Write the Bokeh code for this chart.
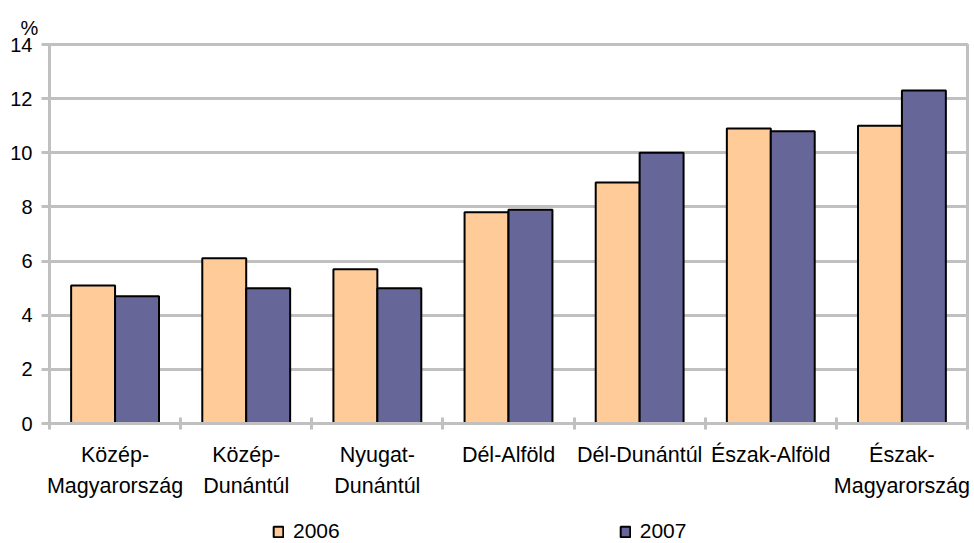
import numpy as np
from bokeh.plotting import figure
from bokeh.layouts import column
from bokeh.models import (ColumnDataSource, FixedTicker, Legend, LegendItem,
                          Range1d, Title)
from bokeh.transform import dodge
from bokeh.embed import file_html
from bokeh.resources import INLINE

# ---- data ----
categories = ["Közép-\nMagyarország", "Közép-\nDunántúl", "Nyugat-\nDunántúl",
              "Dél-Alföld", "Dél-Dunántúl", "Észak-Alföld", "Észak-\nMagyarország"]
years = ["2006", "2007"]
v2006 = [5.1, 6.1, 5.7, 7.8, 8.9, 10.9, 11.0]
v2007 = [4.7, 5.0, 5.0, 7.9, 10.0, 10.8, 12.3]
y_ticks = [0, 2, 4, 6, 8, 10, 12, 14]
unit_label = "%"

FONT = "Liberation Sans"
GRAY = "#c0c0c0"
C2006 = "#FFCC99"
C2007 = "#666699"

n = len(categories)
xc = np.arange(n) + 0.5
src = ColumnDataSource(dict(x=xc, v2006=v2006, v2007=v2007))

W = 974
H_MAIN = 515
H_LEG = 28
LEFT = 49

p = figure(width=W, height=H_MAIN, output_backend="svg", toolbar_location=None,
           x_range=Range1d(0, n), y_range=Range1d(y_ticks[0], y_ticks[-1]),
           min_border_left=LEFT, min_border_right=7, min_border_top=44,
           min_border_bottom=H_MAIN - 423)
p.background_fill_color = "white"
p.border_fill_color = "white"
p.outline_line_color = GRAY
p.outline_line_width = 3

bw = 0.335
p.vbar(x=dodge("x", -bw / 2, range=p.x_range), top="v2006", width=bw,
       source=src, fill_color=C2006, line_color="black", line_width=2)
p.vbar(x=dodge("x", bw / 2, range=p.x_range), top="v2007", width=bw,
       source=src, fill_color=C2007, line_color="black", line_width=2)

# grid
p.xgrid.grid_line_color = None
p.ygrid.grid_line_color = GRAY
p.ygrid.grid_line_width = 3

# y axis
ya = p.yaxis[0]
ya.ticker = FixedTicker(ticks=y_ticks)
ya.axis_line_color = GRAY
ya.axis_line_width = 3
ya.major_tick_line_color = GRAY
ya.major_tick_line_width = 3
ya.major_tick_in = 0
ya.major_tick_out = 8
ya.minor_tick_line_color = None
ya.major_label_standoff = 9
ya.major_label_text_font = FONT
ya.major_label_text_font_size = "20px"
ya.major_label_text_color = "black"

# x axis: labels at category centres, tick marks at category boundaries
xa = p.xaxis[0]
xa.ticker = FixedTicker(ticks=list(xc), minor_ticks=list(range(n + 1)))
xa.major_label_overrides = {float(x): c for x, c in zip(xc, categories)}
xa.axis_line_color = GRAY
xa.axis_line_width = 3
xa.major_tick_line_color = None
xa.major_tick_in = 0
xa.major_tick_out = 0
xa.minor_tick_line_color = GRAY
xa.minor_tick_line_width = 3
xa.minor_tick_in = 6
xa.minor_tick_out = 6
xa.major_label_standoff = 13
xa.major_label_text_font = FONT
xa.major_label_text_font_size = "21.5px"
xa.major_label_text_color = "black"
xa.major_label_text_line_height = 1.3

# unit label
p.add_layout(Title(text=unit_label, align="left", offset=-29, standoff=12,
                   text_font=FONT, text_font_size="20px",
                   text_font_style="normal", text_color="black"), "above")

# ---- legend strip (its renderers are hidden; only the legend shows) ----
leg = figure(width=W, height=H_LEG, output_backend="svg", toolbar_location=None,
             x_axis_type=None, y_axis_type=None,
             x_range=Range1d(0, n), y_range=Range1d(y_ticks[0], y_ticks[-1]),
             min_border=0, min_border_left=0, min_border_right=0,
             min_border_top=0, min_border_bottom=0)
leg.outline_line_color = None
leg.background_fill_color = "white"
leg.border_fill_color = "white"
lr1 = leg.vbar(x="x", top="v2006", width=bw, source=src, fill_color=C2006,
               line_color="black", line_width=2)
lr2 = leg.vbar(x="x", top="v2007", width=bw, source=src, fill_color=C2007,
               line_color="black", line_width=2)
lr1.visible = False
lr2.visible = False
legend = Legend(items=[LegendItem(label=years[0], renderers=[lr1]),
                       LegendItem(label=years[1], renderers=[lr2])],
                orientation="horizontal", location=(272 - LEFT, 0),
                spacing=279, glyph_width=12, glyph_height=13,
                label_standoff=9, label_height=21, label_text_font=FONT,
                label_text_font_size="21px", label_text_color="black",
                border_line_color=None, background_fill_alpha=0,
                inactive_fill_alpha=0, padding=0, margin=0)
leg.add_layout(legend)

layout = column(p, leg, spacing=0)
open("out.html", "w").write(file_html(layout, INLINE))
